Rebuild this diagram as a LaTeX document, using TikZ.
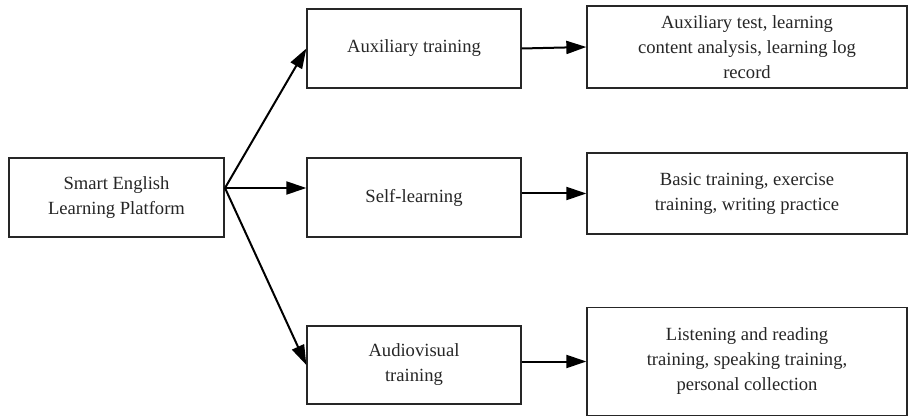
\documentclass[tikz,border=0pt]{standalone}
\usepackage{fontspec}
\setmainfont{Liberation Serif}
\usetikzlibrary{arrows.meta}
\begin{document}
\begin{tikzpicture}[x=1pt,y=-1pt,
  box/.style={draw=black!85,line width=1.3pt,fill=white,align=center,inner sep=2pt,
    font=\fontsize{18.6}{25}\selectfont,text=black!85},
  conn/.style={line width=2pt,-{Triangle[length=20pt,width=13pt]}}]
\useasboundingbox (0,0) rectangle (911,417);
\node[box,minimum width=215pt,minimum height=79pt] (L) at (116.5,197.5) {Smart English\\Learning Platform};
\node[box,minimum width=214pt,minimum height=79pt] (A) at (414,48.5) {Auxiliary training};
\node[box,minimum width=214pt,minimum height=79pt] (S) at (414,197.5) {Self-learning};
\node[box,minimum width=214pt,minimum height=78pt] (V) at (414,365) {Audiovisual\\training};
\node[box,minimum width=320pt,minimum height=82pt] (R1) at (747,47) {Auxiliary test, learning\\content analysis, learning log\\record};
\node[box,minimum width=320pt,minimum height=81pt] (R2) at (747,193.5) {Basic training, exercise\\training, writing practice};
\node[box,minimum width=320pt,minimum height=108pt] (R3) at (747,361.5) {Listening and reading\\training, speaking training,\\personal collection};
\coordinate (fan) at (225,188);
\draw[conn] (fan) -- (A.west);
\draw[conn] (fan) -- (S.west |- fan);
\draw[conn] (fan) -- (V.west);
\draw[conn] (A.east) -- (R1.west);
\draw[conn] (S.east |- R2.west) -- (R2.west);
\draw[conn] (V.east |- R3.west) -- (R3.west);
\end{tikzpicture}
\end{document}
